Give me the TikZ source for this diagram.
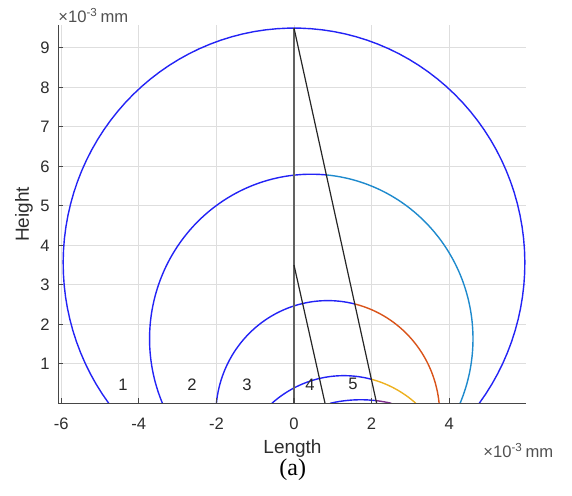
\documentclass[tikz,border=0pt]{standalone}
\usepackage{fontspec}
\setmainfont{Liberation Sans}
\newfontfamily\capfont{Liberation Serif}
\definecolor{cblue}{RGB}{35,35,245}
\definecolor{clight}{RGB}{30,138,205}
\definecolor{corange}{RGB}{217,83,25}
\definecolor{cyellow}{RGB}{237,177,32}
\definecolor{cpurple}{RGB}{126,47,142}
\definecolor{gridc}{RGB}{222,222,222}
\definecolor{axisc}{RGB}{70,70,70}
\definecolor{labc}{RGB}{45,45,45}
\definecolor{unitc}{RGB}{80,80,80}
\newcommand\myarc[6]{\draw[curve,#1] plot[domain=#5:#6,samples=90] ({#2+#4*cos(\x)},{#3+#4*sin(\x)});}
\begin{document}
\begin{tikzpicture}[x=0.5pt,y=0.5pt,
  gridline/.style={draw=gridc,line width=0.45pt},
  curve/.style={line width=0.7pt},
  blackline/.style={draw=black!85,line width=0.6pt},
  axisline/.style={draw=axisc,line width=0.55pt},
  ticklab/.style={font=\fontsize{8.3}{10}\selectfont,text=labc,inner sep=0pt},
  regionlab/.style={font=\fontsize{8.3}{10}\selectfont,text=black!85,inner sep=0pt},
  axislab/.style={font=\fontsize{9.5}{11}\selectfont,text=labc,inner sep=0pt},
  unitlab/.style={font=\fontsize{8.3}{10}\selectfont,text=unitc,inner sep=0pt}]
\path[use as bounding box] (0,0) rectangle (572,495);
\begin{scope}[shift={(147pt,45.85pt)}, x=19.4pt, y=19.75pt]
  % grid
  \foreach \v in {-6,-4,...,4} \draw[gridline] (\v,0) -- (\v,9.58);
  \foreach \v in {1,...,9} \draw[gridline] (-6.08,\v) -- (5.98,\v);
  % circles
  \myarc{cblue}{0}{3.55}{5.95}{-36.63}{216.63}
  \myarc{clight}{0.445}{1.632}{4.168}{-23.05}{84.7}
  \myarc{cblue}{0.445}{1.632}{4.168}{84.7}{203.05}
  \myarc{corange}{0.87}{-0.284}{2.884}{5.65}{76.0}
  \myarc{cblue}{0.87}{-0.284}{2.884}{76.0}{174.35}
  \myarc{cyellow}{1.285}{-2.107}{2.807}{48.64}{75.2}
  \myarc{cblue}{1.285}{-2.107}{2.807}{75.2}{131.36}
  \myarc{cpurple}{1.72}{-3.42}{3.51}{77.0}{83.8}
  \myarc{cblue}{1.72}{-3.42}{3.51}{83.8}{103.0}
  % lines
  \coordinate (base0) at (0,0);
  \coordinate (apex) at (0,9.5);
  \coordinate (mid) at (0,3.5);
  \coordinate (footA) at (0.8,0);
  \coordinate (footB) at (2.13,0);
  \draw[draw=black!62,line width=1.1pt] (base0) -- (apex);
  \draw[blackline] (apex) -- (footB);
  \draw[blackline] (mid) -- (footA);
  % axes
  \coordinate (origin) at (-6.08,0);
  \coordinate (ytop) at (-6.08,9.58);
  \coordinate (xend) at (5.98,0);
  \draw[axisline] (ytop) -- (origin) -- (xend);
  \foreach \v in {-6,-4,...,4} {
    \draw[axisline] (\v,0) -- (\v,0.13);
    \node[ticklab] (xt\v) at ([yshift=-10pt]\v,0) {\v};
  }
  \foreach \v in {1,...,9} {
    \draw[axisline] (-6.08,\v) -- (-5.95,\v);
    \node[ticklab,anchor=east] (yt\v) at ([xshift=-4pt]-6.08,\v) {\v};
  }
  % region numbers
  \node[regionlab] (r1) at (-4.41,0.46) {1};
  \node[regionlab] (r2) at (-2.63,0.46) {2};
  \node[regionlab] (r3) at (-1.21,0.46) {3};
  \node[regionlab] (r4) at (0.41,0.46) {4};
  \node[regionlab] (r5) at (1.52,0.48) {5};
\end{scope}
\node[unitlab,anchor=base west] (unittop) at (58,473) {×10\textsuperscript{-3}\,mm};
\node[unitlab,anchor=base west] (unitbot) at (483,38) {×10\textsuperscript{-3}\,mm};
\node[axislab,rotate=90] (ylab) at (24,280.5) {Height};
\node[axislab,anchor=base] (xlab) at (292.5,42) {Length};
\node[anchor=base,inner sep=0pt,font=\capfont\fontsize{12}{14}\selectfont] (cap) at (292.7,20) {(a)};
\end{tikzpicture}
\end{document}
